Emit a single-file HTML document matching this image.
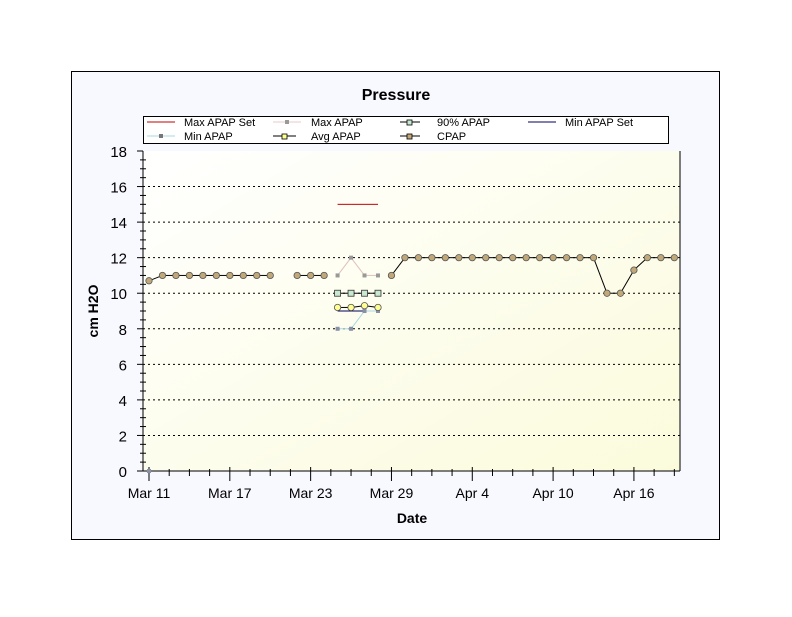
<!DOCTYPE html>
<html><head><meta charset="utf-8"><style>
html,body{margin:0;padding:0;background:#fff;}
svg text{font-family:"Liberation Sans",Arial,sans-serif;}
</style></head><body>
<svg id="chart" width="792" height="612" xmlns="http://www.w3.org/2000/svg">
<defs>
<linearGradient id="pg" x1="0" y1="0" x2="1" y2="1">
<stop offset="0" stop-color="#ffffff"/><stop offset="1" stop-color="#fbfbdc"/>
</linearGradient>
</defs>
<rect x="71.5" y="71.5" width="648" height="468" fill="#f8f8ff" stroke="#000"/>
<text x="396" y="100" text-anchor="middle" font-size="16" font-weight="bold">Pressure</text>
<rect x="143" y="151" width="537" height="320" fill="url(#pg)"/>
<g id="grid"></g>
<g id="axes"></g>
<g id="series"></g>
<text x="412" y="523" text-anchor="middle" font-size="14" font-weight="bold">Date</text>
<text transform="translate(98,311) rotate(-90)" text-anchor="middle" font-size="14" font-weight="bold">cm H2O</text>
<g>
<rect x="143.5" y="116.5" width="525" height="27" fill="#fff" stroke="#000"/>
<g><line x1="147" y1="122" x2="175" y2="122" stroke="#c00000"/><text x="184" y="126" font-size="11">Max APAP Set</text></g>
<g><line x1="273" y1="122" x2="301" y2="122" stroke="#e8c8c8"/><rect x="285" y="120" width="4" height="4" fill="#999"/><text x="311" y="126" font-size="11">Max APAP</text></g>
<g><line x1="400" y1="122" x2="420" y2="122" stroke="#000"/><rect x="407" y="120" width="5" height="5" fill="#c8e8d0" stroke="#000" stroke-width="0.8"/><text x="437" y="126" font-size="11">90% APAP</text></g>
<g><line x1="528" y1="122" x2="556" y2="122" stroke="#000060"/><text x="565" y="126" font-size="11">Min APAP Set</text></g>
<g><line x1="147" y1="136" x2="175" y2="136" stroke="#a8d8e0"/><rect x="159" y="134" width="4" height="4" fill="#777"/><text x="184" y="140" font-size="11">Min APAP</text></g>
<g><line x1="273" y1="136" x2="296" y2="136" stroke="#000"/><rect x="282" y="134" width="5" height="5" fill="#ffff90" stroke="#000" stroke-width="0.8"/><text x="311" y="140" font-size="11">Avg APAP</text></g>
<g><line x1="400" y1="136" x2="420" y2="136" stroke="#000"/><rect x="407" y="134" width="5" height="5" fill="#c0a878" stroke="#000" stroke-width="0.8"/><text x="437" y="140" font-size="11">CPAP</text></g>
</g>
</svg>
<script>
const yTicks=[0,2,4,6,8,10,12,14,16,18];
const xTickLabels=["Mar 11","Mar 17","Mar 23","Mar 29","Apr 4","Apr 10","Apr 16"];
const xTickDays=[0,6,12,18,24,30,36];
const cpapDays=[0,1,2,3,4,5,6,7,8,9,11,12,13,18,19,20,21,22,23,24,25,26,27,28,29,30,31,32,33,34,35,36,37,38,39];
const cpapVals=[10.7,11,11,11,11,11,11,11,11,11,11,11,11,11,12,12,12,12,12,12,12,12,12,12,12,12,12,12,12,10,10,11.3,12,12,12];
const apapDays=[14,15,16,17];
const maxApapSet=[15,15,15,15];
const maxApap=[11,12,11,11];
const p90Apap=[10,10,10,10];
const avgApap=[9.2,9.2,9.3,9.2];
const minApapSet=[9,9,9,9];
const minApapDays=[0,14,15,16,17];
const minApap=[0,8,8,9,9];

const X0=149,DX=13.47,Y0=471,YT=151,YMAX=18,XL=143,XR=680;
const xs=d=>X0+d*DX, ys=v=>Y0-(v/YMAX)*(Y0-YT);
const NS="http://www.w3.org/2000/svg";
function mk(tag,attrs,parent,txt){const e=document.createElementNS(NS,tag);for(const k in attrs)e.setAttribute(k,attrs[k]);if(txt!==undefined)e.textContent=txt;parent.appendChild(e);return e;}
const grid=document.getElementById('grid'),axes=document.getElementById('axes'),ser=document.getElementById('series');
yTicks.forEach(v=>{
  if(v>0&&v<18){const g=mk('line',{x1:XL,x2:XR,y1:ys(v),y2:ys(v),stroke:'#000','stroke-dasharray':'2,3','stroke-width':1},grid);
  
  }
  const t=mk('text',{x:127,y:ys(v)+6,'text-anchor':'end','font-size':15},axes,String(v));
  
  
});
for(let v=0;v<=18.001;v+=0.5){const major=Math.abs(v-Math.round(v/2)*2)<0.01;
  mk('line',{x1:XL-(major?6:3),x2:XL+(major?0:3),y1:ys(v),y2:ys(v),stroke:'#000'},axes);}
mk('line',{x1:XL,x2:XL,y1:YT,y2:Y0,stroke:'#000'},axes);
mk('line',{x1:XR,x2:XR,y1:YT,y2:Y0,stroke:'#000'},axes);
mk('line',{x1:XL,x2:XR,y1:Y0,y2:Y0,stroke:'#000'},axes);
for(let d=0;d<=39;d+=1.5){const major=Math.abs(d/6-Math.round(d/6))<0.01;
  mk('line',{x1:xs(d),x2:xs(d),y1:Y0-(major?4:2),y2:Y0+(major?10:5),stroke:'#000'},axes);}
xTickDays.forEach((d,i)=>{const t=mk('text',{x:xs(d),y:498,'text-anchor':'middle','font-size':14},axes,xTickLabels[i]);
  
  });
function seg(days,vals,color,name,marker,fill,msize){
  const g=mk('g',{},ser);
  
  
  for(let i=1;i<days.length;i++){if(days[i]-days[i-1]===1)mk('line',{x1:xs(days[i-1]),y1:ys(vals[i-1]),x2:xs(days[i]),y2:ys(vals[i]),stroke:color,'stroke-width':1},g);}
  days.forEach((d,i)=>{
    if(marker==='circle')mk('circle',{cx:xs(d),cy:ys(vals[i]),r:msize,fill:fill,stroke:'#555','stroke-width':0.8},g);
    else if(marker==='square')mk('rect',{x:xs(d)-msize,y:ys(vals[i])-msize,width:2*msize,height:2*msize,fill:fill,stroke:'#333','stroke-width':0.8},g);
    else if(marker==='dot')mk('rect',{x:xs(d)-2,y:ys(vals[i])-2,width:4,height:4,fill:fill},g);
  });
}
seg(apapDays,maxApapSet,'#c00000','max-apap-set-series',null);
seg(apapDays,maxApap,'#e0c0c0','max-apap-series','dot','#999');
seg(apapDays,p90Apap,'#000','p90-apap-series','square','#c8e8d0',3);
seg(apapDays,minApapSet,'#000060','min-apap-set-series',null);
seg(minApapDays,minApap,'#a8d8e0','min-apap-series','dot','#8890a8');
seg(apapDays,avgApap,'#000','avg-apap-series','circle','#ffff90',3.2);
seg(cpapDays,cpapVals,'#000','cpap-series','circle','#c0a878',3.2);
</script>
</body></html>
